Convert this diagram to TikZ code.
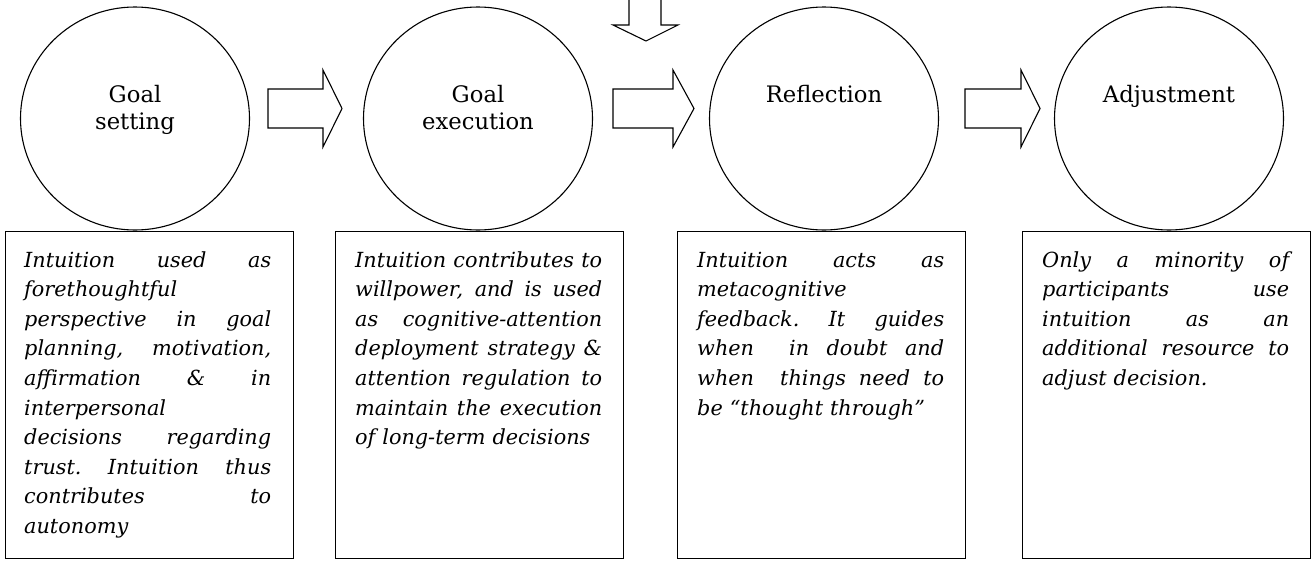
\documentclass[tikz,border=0pt]{standalone}
\usepackage{fontspec}
\setmainfont{DejaVu Serif}
\usetikzlibrary{shapes.geometric,calc}
% a justified line of the notes, stretched to the full text width
\newcommand{\jline}[1]{{\spaceskip=.3333em plus 20em\relax\xspaceskip=\spaceskip
  \makebox[247pt][s]{#1}}}
% a right-pointing block arrow: start point, shaft length, head length
\newcommand{\rightblock}[3]{%
  \draw[blockarrow] (#1) ++(0,-19.5) -- ++(#2,0) -- ++(0,-19) -- ++(#3,38.5)
    -- ++(-#3,38.5) -- ++(0,-19) -- ++(-#2,0) -- cycle;}
\begin{document}
\begin{tikzpicture}[x=1pt,y=-1pt,
  stage/.style={ellipse,draw,line width=1.1pt,minimum width=229pt,minimum height=223pt,inner sep=0pt},
  stagelabel/.style={font=\fontsize{22.7}{27}\selectfont,align=center,anchor=base,inner sep=0pt},
  notebox/.style={draw,line width=1.1pt,minimum width=288pt,minimum height=327pt,anchor=north west,inner sep=0pt},
  notetext/.style={font=\fontsize{20.8}{29.6}\selectfont\itshape,text width=247pt,align=left,anchor=base west,inner sep=0pt},
  blockarrow/.style={draw,line width=1.1pt,line join=miter}]
\useasboundingbox (0,0) rectangle (1312,560);

% the four stages
\node[stage] (c1) at (135,118.5) {};
\node[stage] (c2) at (478,118.5) {};
\node[stage] (c3) at (824,118.5) {};
\node[stage] (c4) at (1169,118.5) {};

% stage names (base anchor sits on the last line)
\node[stagelabel] (l1) at (135,129) {Goal\\setting};
\node[stagelabel] (l2) at (478,129) {Goal\\execution};
\node[stagelabel] (l3) at (824,102) {Reflection};
\node[stagelabel] (l4) at (1169,102) {Adjustment};

% block arrows between the stages
\coordinate (a1) at (268,108.5);
\coordinate (a2) at (613,108.5);
\coordinate (a3) at (965,108.5);
\rightblock{a1}{55}{19}
\rightblock{a2}{60}{21}
\rightblock{a3}{56}{19}

% incoming arrow from above
\coordinate (inL) at (629,0);
\coordinate (inR) at (661,0);
\draw[blockarrow] (inL) -- ++(0,25) -- ++(-16,0) -- ++(33,16) -- ++(32,-16) -- ++(-17,0) -- (inR);

% note boxes
\node[notebox] (b1) at (5,231) {};
\node[notebox] (b2) at (335,231) {};
\node[notebox] (b3) at (677,231) {};
\node[notebox] (b4) at (1022,231) {};

\node[notetext] (t1) at ($(b1.north west)+(19,36)$) {%
\jline{Intuition used as}\\
forethoughtful\\
\jline{perspective in goal}\\
\jline{planning, motivation,}\\
\jline{affirmation \& in}\\
interpersonal\\
\jline{decisions regarding}\\
\jline{trust. Intuition thus}\\
\jline{contributes to}\\
autonomy};

\node[notetext] (t2) at ($(b2.north west)+(20,36)$) {%
\jline{Intuition contributes to}\\
\jline{willpower, and is used}\\
\jline{as cognitive-attention}\\
\jline{deployment strategy \&}\\
\jline{attention regulation to}\\
\jline{maintain the execution}\\
of long-term decisions};

\node[notetext] (t3) at ($(b3.north west)+(20,36)$) {%
\jline{Intuition acts as}\\
metacognitive\\
\jline{feedback. It guides}\\
\jline{when\ \ in doubt and}\\
\jline{when\ \ things need to}\\
be “thought through”};

\node[notetext] (t4) at ($(b4.north west)+(20,36)$) {%
\jline{Only a minority of}\\
\jline{participants use}\\
\jline{intuition as an}\\
\jline{additional resource to}\\
adjust decision.};
\end{tikzpicture}
\end{document}
